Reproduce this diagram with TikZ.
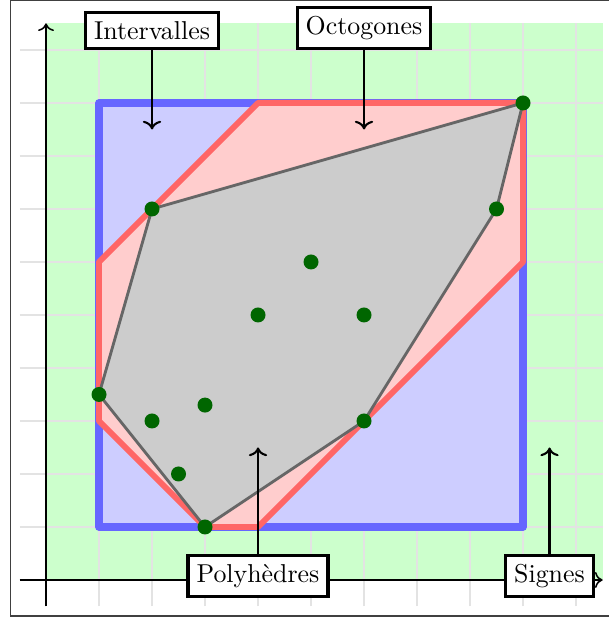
\documentclass[tikz,border=0pt]{standalone}
\usepackage{tikz}
\usetikzlibrary{positioning,arrows.meta}
\definecolor{DomGreen}{HTML}{CCFFCC}
\definecolor{DomBlue}{HTML}{6666FF}
\definecolor{DomRed}{HTML}{FF6666}
\definecolor{DomGray}{HTML}{666666}
\definecolor{PtGreen}{HTML}{006600}

\begin{document}
\begin{tikzpicture}[
    x=0.72cm, y=0.72cm,
    gridline/.style={draw=black!11, line width=0.6pt, step=0.72cm},
    axisline/.style={->, draw=black, line width=0.6pt},
    signesfill/.style={fill=DomGreen},
    intvshape/.style={
      draw=DomBlue,
      fill=DomBlue!33,
      line width=2.9pt,
      line join=round
    },
    octshape/.style={
      draw=DomRed,
      fill=DomRed!33,
      line width=2.3pt,
      line join=round
    },
    polyshape/.style={
      draw=DomGray,
      fill=black!20,
      line width=1.1pt,
      line join=round
    },
    pointdot/.style={fill=PtGreen},
    labelbox/.style={
      draw=black,
      fill=white,
      very thick
    },
    labelarrow/.style={
      ->,
      thick,
      black
    }
  ]

  \useasboundingbox (-0.868,-0.736) rectangle (10.623,10.943);
  \draw[black!75, line width=0.6pt] (10.623,10.93) -- (-0.67,10.93) -- (-0.67,-0.68) -- (10.623,-0.68);

  % fond, grille, axes
  \fill[signesfill] (0,0) rectangle (10.5,10.5);
  \draw[gridline] (-0.5,-0.5) grid (10.5,10.5);
  \draw[axisline] (-0.5,0) -- (10.5,0);
  \draw[axisline] (0,-0.5) -- (0,10.5);

  % points
  \foreach \nm/\px/\py in {p1/1/3.5, p2/2/7, p3/9/9, p4/8.5/7, p5/6/3, p6/3/1,
                            p7/5/6, p8/4/5, p9/6/5, p10/2/3, p11/3/3.3, p12/2.5/2}
    \coordinate (\nm) at (\px,\py);

  % domaines
  \draw[intvshape] (1,1) rectangle (9,9);
  \draw[octshape] (1,3) -- (1,6) -- (4,9) -- (9,9) -- (9,6) -- (4,1) -- (3,1) -- cycle;
  \draw[polyshape] (p1) -- (p2) -- (p3) -- (p4) -- (p5) -- (p6) -- cycle;

  \foreach \nm in {p1,p2,p3,p4,p5,p6,p7,p8,p9,p10,p11,p12}
    \fill[pointdot] (\nm) circle (2.9pt);

  % etiquettes
  \coordinate (intvtip) at (2,8.5);
  \coordinate (octtip) at (6,8.5);
  \coordinate (polytip) at (4,2.5);
  \coordinate (sigtip) at (9.5,2.5);

  \node[labelbox, anchor=south] (intv) at (2,10) {Intervalles};
  \node[labelbox, anchor=south] (oct) at (6,10) {Octogones};
  \node[labelbox] (poly) at (4,0.08) {Polyhèdres};
  \node[labelbox] (sig) at (9.5,0.08) {Signes};

  \draw[labelarrow] (intv) -- (intvtip);
  \draw[labelarrow] (oct) -- (octtip);
  \draw[labelarrow] (poly) -- (polytip);
  \draw[labelarrow] (sig) -- (sigtip);

\end{tikzpicture}
\end{document}
